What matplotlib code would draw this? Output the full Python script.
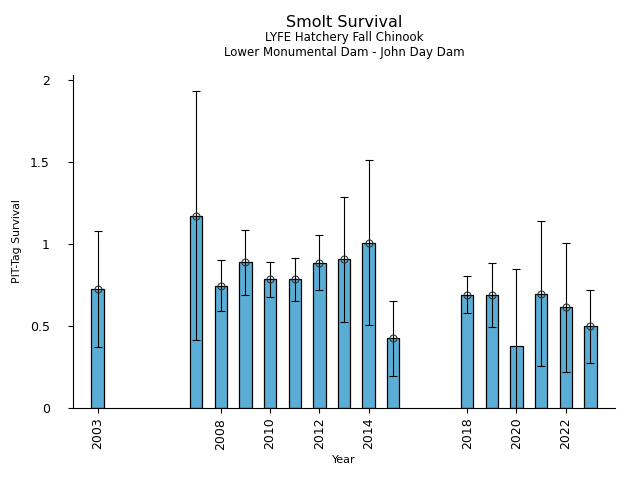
import numpy as np
from matplotlib import pyplot as plt

years = [2003, 2007, 2008, 2009, 2010, 2011, 2012, 2013, 2014, 2015,
         2018, 2019, 2020, 2021, 2022, 2023]
survival = [0.726, 1.171, 0.742, 0.888, 0.785, 0.785, 0.882, 0.907, 1.004, 0.425,
            0.687, 0.687, 0.376, 0.693, 0.614, 0.498]
upper = [1.077, 1.933, 0.90, 1.087, 0.888, 0.912, 1.055, 1.285, 1.510, 0.652,
         0.803, 0.882, 0.846, 1.138, 1.004, 0.718]
lower = [0.37, 0.413, 0.591, 0.687, 0.675, 0.65, 0.717, 0.522, 0.504, 0.193,
         0.577, 0.492, 0.0, 0.254, 0.218, 0.273]
# 2020 has no point estimate marker
show_marker = [True] * 12 + [False] + [True] * 3
xtick_years = [2003, 2008, 2010, 2012, 2014, 2018, 2020, 2022]
yticks = [0, 0.5, 1, 1.5, 2]
ytick_labels = ["0", "0.5", "1", "1.5", "2"]

fig = plt.figure(figsize=(6.4, 4.8), dpi=100)
ax = fig.add_axes([0.114, 0.15, 0.847, 0.694])

surv = np.array(survival)
err = [surv - np.array(lower), np.array(upper) - surv]

ax.bar(years, survival, width=0.5, color="#5aaed6", edgecolor="black", linewidth=0.9)
ax.errorbar(years, survival, yerr=err, fmt="none", ecolor="black",
            elinewidth=0.8, capsize=3, capthick=0.8)
mx = [y for y, m in zip(years, show_marker) if m]
my = [s for s, m in zip(survival, show_marker) if m]
ax.plot(mx, my, "o", markerfacecolor="none", markeredgecolor="#333333",
        markersize=5, markeredgewidth=0.8)

ax.set_xlim(2002, 2024)
ax.set_ylim(0, 2.03)
ax.set_xticks(xtick_years)
ax.set_xticklabels([str(y) for y in xtick_years], rotation=90)
ax.set_yticks(yticks)
ax.set_yticklabels(ytick_labels)
ax.tick_params(labelsize=9)
ax.tick_params(axis="y", pad=13)
ax.spines["top"].set_visible(False)
ax.spines["right"].set_visible(False)

ax.set_xlabel("Year", fontsize=8)
ax.set_ylabel("PIT-Tag Survival", fontsize=7.8, labelpad=6)

fig.text(0.5375, 0.953, "Smolt Survival", ha="center", va="center", fontsize=11.5)
fig.text(0.5375, 0.921, "LYFE Hatchery Fall Chinook", ha="center", va="center", fontsize=8.5)
fig.text(0.5375, 0.890, "Lower Monumental Dam - John Day Dam", ha="center", va="center", fontsize=8.5)

fig.savefig("out.png", dpi=100)
